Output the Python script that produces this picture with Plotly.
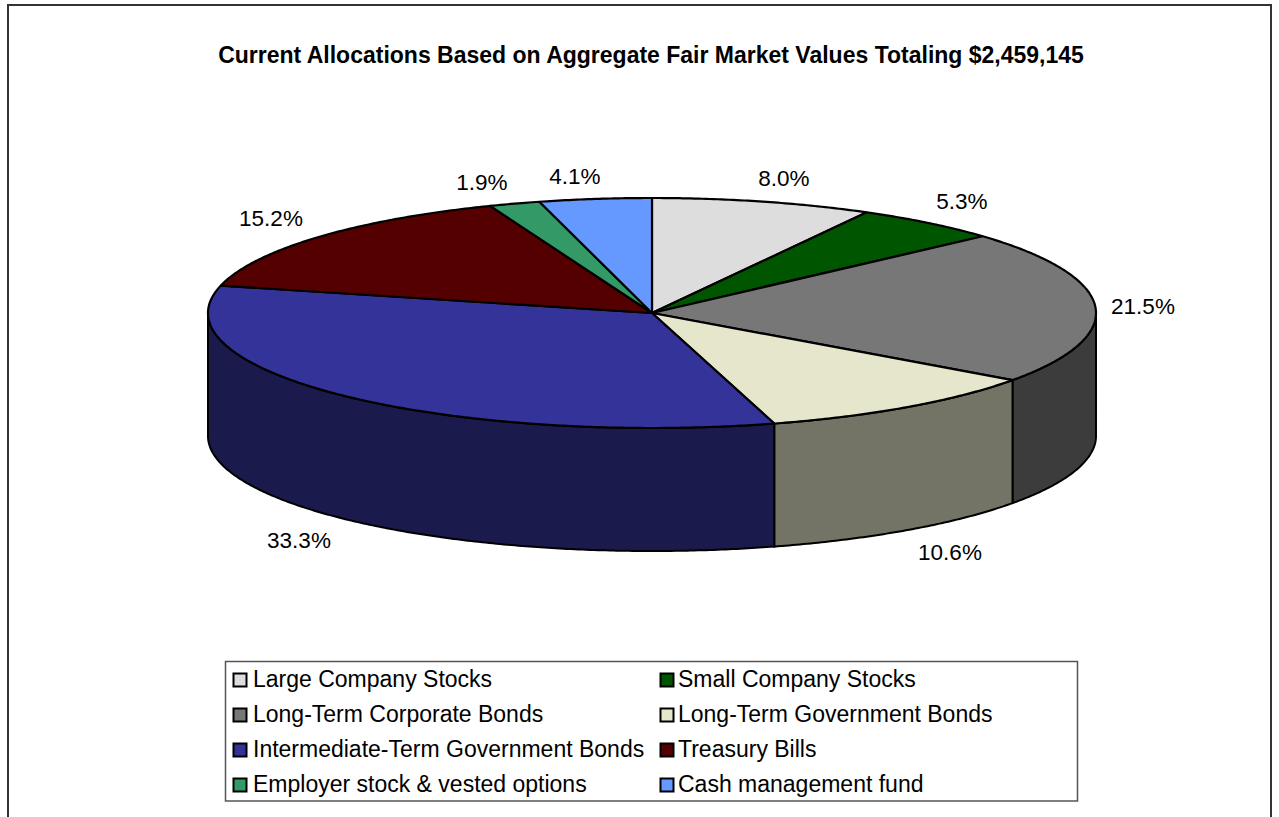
import numpy as np
import plotly.graph_objects as go

title = "Current Allocations Based on Aggregate Fair Market Values Totaling $2,459,145"
categories = ["Large Company Stocks", "Small Company Stocks", "Long-Term Corporate Bonds",
              "Long-Term Government Bonds", "Intermediate-Term Government Bonds", "Treasury Bills",
              "Employer stock & vested options", "Cash management fund"]
# Estimated shares, within the rounding of the one-decimal labels, read from slice boundaries
values = [8.04, 5.34, 21.54, 10.64, 33.26, 15.24, 1.86, 4.06]
top_colors = ["#DDDDDD", "#005500", "#777777", "#E6E6CC", "#333399", "#550000", "#339966", "#6699FF"]
side_colors = ["#6F6F6F", "#002B00", "#3C3C3C", "#737366", "#1A1A4D", "#2B0000", "#1A4D33", "#334D80"]

# Layout (pixel-based axes)
CX, CY, RX, RY, DEPTH = 652, 313, 444, 115, 123
label_x = [784, 962, 1143, 950, 299, 271, 482, 575]
label_y = [180, 203, 308, 554, 542, 220, 184, 178]
swatch_x = [240, 667, 240, 667, 240, 667, 240, 667]
swatch_y = [680, 680, 715, 715, 750, 750, 785, 785]
legend_text_x = [253, 678, 253, 678, 253, 678, 253, 678]
legend_text_y = [681, 681, 716, 716, 751, 751, 786, 786]


def arc(a, b, dy=0.0):
    t = np.radians(np.linspace(a, b, max(2, int(abs(b - a) * 2) + 2)))
    return CX + RX * np.sin(t), CY - RY * np.cos(t) + dy


fig = go.Figure()
edges = np.concatenate([[0], np.cumsum(values)]) * 3.6
edges[-1] = 360.0

# Visible outer walls (front half of the disc)
for i, name in enumerate(categories):
    a, b = max(edges[i], 90), min(edges[i + 1], 270)
    if a >= b:
        continue
    x1, y1 = arc(a, b)
    x2, y2 = arc(b, a, DEPTH)
    fig.add_trace(go.Scatter(x=np.r_[x1, x2, x1[0]], y=np.r_[y1, y2, y1[0]], mode="lines",
                             fill="toself", fillcolor=side_colors[i],
                             line=dict(color="black", width=2, simplify=False),
                             hoverinfo="skip", showlegend=False))

# Top face wedges (each path starts and ends on the rim, passing through the centre)
for i, name in enumerate(categories):
    x1, y1 = arc(edges[i], edges[i + 1])
    fig.add_trace(go.Scatter(x=np.r_[x1, CX, x1[0]], y=np.r_[y1, CY, y1[0]], mode="lines",
                             fill="toself", fillcolor=top_colors[i], name=name,
                             line=dict(color="black", width=2.2, simplify=False), showlegend=False))

# Percentage labels
fig.add_trace(go.Scatter(x=label_x, y=label_y, mode="text",
                         text=[f"{v:.1f}%" for v in values], textposition="middle center",
                         textfont=dict(family="Liberation Sans, Arial", size=22.5, color="black"),
                         hoverinfo="skip", showlegend=False))

# Legend swatches and names
fig.add_trace(go.Scatter(x=swatch_x, y=swatch_y, mode="markers",
                         marker=dict(symbol="square", size=13, color=top_colors,
                                     line=dict(color="black", width=2)),
                         hoverinfo="skip", showlegend=False))
fig.add_trace(go.Scatter(x=legend_text_x, y=legend_text_y, mode="text",
                         text=categories, textposition="middle right",
                         textfont=dict(family="Liberation Sans, Arial", size=23, color="black"),
                         hoverinfo="skip", showlegend=False))

fig.add_shape(type="rect", x0=8, x1=1271, y0=5, y1=840, line=dict(color="#333333", width=2),
              layer="below")
fig.add_shape(type="rect", x0=225.5, x1=1077.5, y0=661.5, y1=801, line=dict(color="#555555", width=1.5),
              fillcolor="white", layer="below")

fig.update_layout(
    width=1279, height=817, margin=dict(l=0, r=0, t=0, b=0),
    paper_bgcolor="white", plot_bgcolor="white", showlegend=False,
    xaxis=dict(range=[0, 1279], visible=False, fixedrange=True),
    yaxis=dict(range=[817, 0], visible=False, fixedrange=True),
    title=dict(text=f"<b>{title}</b>", x=651 / 1279, xanchor="center", y=1 - 55 / 817, yanchor="middle",
               font=dict(family="Liberation Sans, Arial", size=23, color="black")),
)

fig.write_html("out.html", config={"displayModeBar": False},
               post_script="document.body.style.margin='0';document.body.style.overflow='hidden';")
